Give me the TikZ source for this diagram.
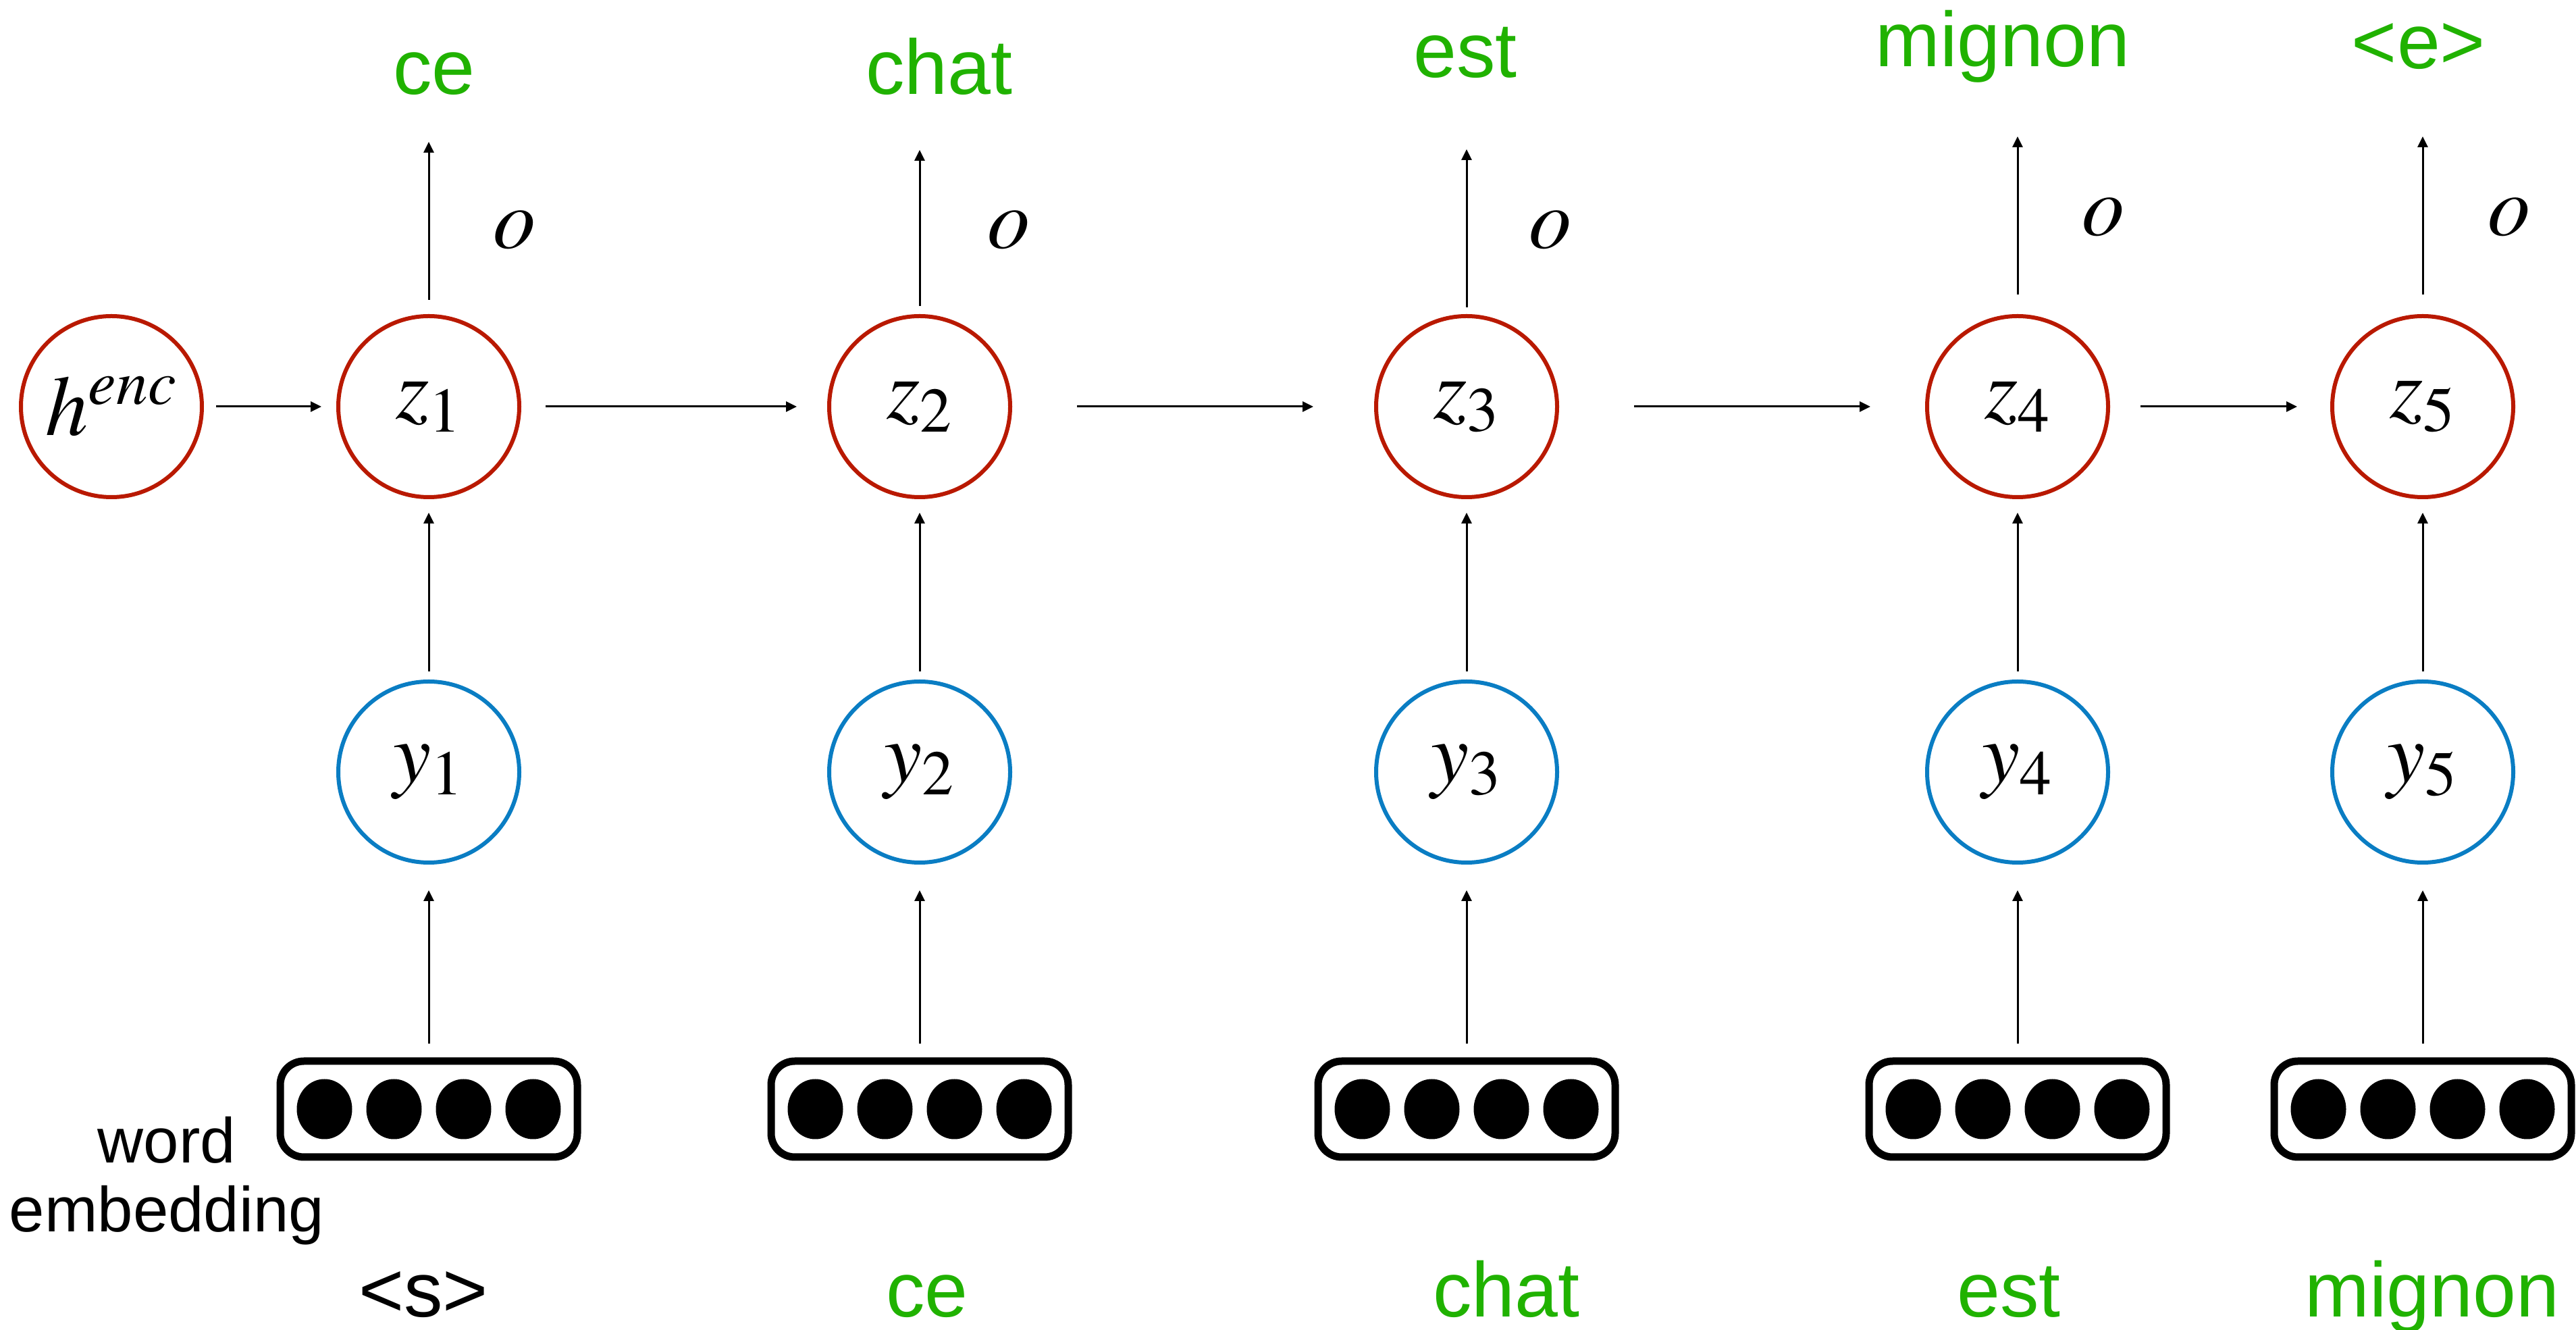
\documentclass[tikz,border=0pt]{standalone}
\usepackage{mathptmx}
\usepackage[no-math]{fontspec}
\setmainfont{Liberation Sans}
\usepackage{tikz}
\usetikzlibrary{calc,arrows.meta}
\definecolor{zred}{HTML}{B91900}
\definecolor{yblue}{HTML}{0A7DC3}
\definecolor{wgreen}{HTML}{20B200}
\newcommand{\wordfont}{\fontsize{32.7}{39}\selectfont}
\newcommand{\symfont}{\fontsize{36}{42}\selectfont}
\newcommand{\notefont}{\fontsize{26.8}{29}\selectfont}
\newcommand{\Embed}[3]{%
  \node[embbox] (#1) at (#2,#3) {};
  \foreach \k in {-1.545,-0.515,0.515,1.545}
    \fill ($(#1.center)+(\k,0)$) ellipse (0.41 and 0.445);
}

\begin{document}
\begin{tikzpicture}[
  state/.style={circle,draw,line width=0.06cm,minimum size=2.68cm,inner sep=0pt,font=\symfont},
  embbox/.style={draw,rounded corners=0.35cm,line width=0.11cm,minimum width=4.4cm,minimum height=1.42cm,inner sep=0pt},
  arr/.style={-{Triangle[length=0.16cm,width=0.15cm]},line width=0.03cm},
  word/.style={font=\wordfont,text=wgreen,inner sep=0pt,anchor=base},
  sym/.style={font=\symfont,inner sep=0pt}]
  \useasboundingbox (0,0) rectangle (38.15,19.68);

  \node[state,draw=zred] (h) at (1.65,13.66) {$h^{enc}$};

  \foreach \i/\x in {1/6.35,2/13.62,3/21.72,4/29.88,5/35.88} {
    \node[state,draw=zred] (z\i) at (\x,13.66) {$z_\i$};
    \node[state,draw=yblue] (y\i) at (\x,8.25) {$y_\i$};
    \Embed{e\i}{\x}{3.26}
    \draw[arr,shorten <=0.12cm,shorten >=0.2cm] (y\i) -- (z\i);
    \draw[arr,shorten <=0.2cm,shorten >=0.38cm] (e\i) -- (y\i);
  }

  \foreach \i/\tip/\gap in {1/17.58/0.21,2/17.46/0.12,3/17.47/0.10,4/17.66/0.29,5/17.66/0.29} {
    \coordinate (t\i) at (z\i.north |- 0,\tip);
    \draw[arr,shorten <=\gap cm] (z\i) -- (t\i);
  }

  \draw[arr,shorten <=0.18cm,shorten >=0.22cm] (h) -- (z1);
  \draw[arr,shorten <=0.36cm,shorten >=0.45cm] (z1) -- (z2);
  \draw[arr,shorten <=0.96cm,shorten >=0.90cm] (z2) -- (z3);
  \draw[arr,shorten <=1.11cm,shorten >=0.81cm] (z3) -- (z4);
  \draw[arr,shorten <=0.45cm,shorten >=0.49cm] (z4) -- (z5);

  \node[sym] (o1) at (7.62,16.27) {$o$};
  \node[sym] (o2) at (14.94,16.27) {$o$};
  \node[sym] (o3) at (22.96,16.27) {$o$};
  \node[sym] (o4) at (31.15,16.46) {$o$};
  \node[sym] (o5) at (37.16,16.46) {$o$};

  \node[word] (w1) at (6.43,18.28) {ce};
  \node[word] (w2) at (13.91,18.28) {chat};
  \node[word] (w3) at (21.70,18.53) {est};
  \node[word] (w4) at (29.66,18.69) {mignon};
  \node[word] (w5) at (35.82,18.66) {<e>};

  \node[word,text=black] (s1) at (6.27,0.19) {<s>};
  \node[word] (s2) at (13.73,0.19) {ce};
  \node[word] (s3) at (22.31,0.19) {chat};
  \node[word] (s4) at (29.75,0.19) {est};
  \node[word] (s5) at (36.02,0.19) {mignon};

  \node[font=\notefont,align=center,inner sep=0pt] (note) at (2.47,2.20) {word\\embedding};
\end{tikzpicture}
\end{document}
